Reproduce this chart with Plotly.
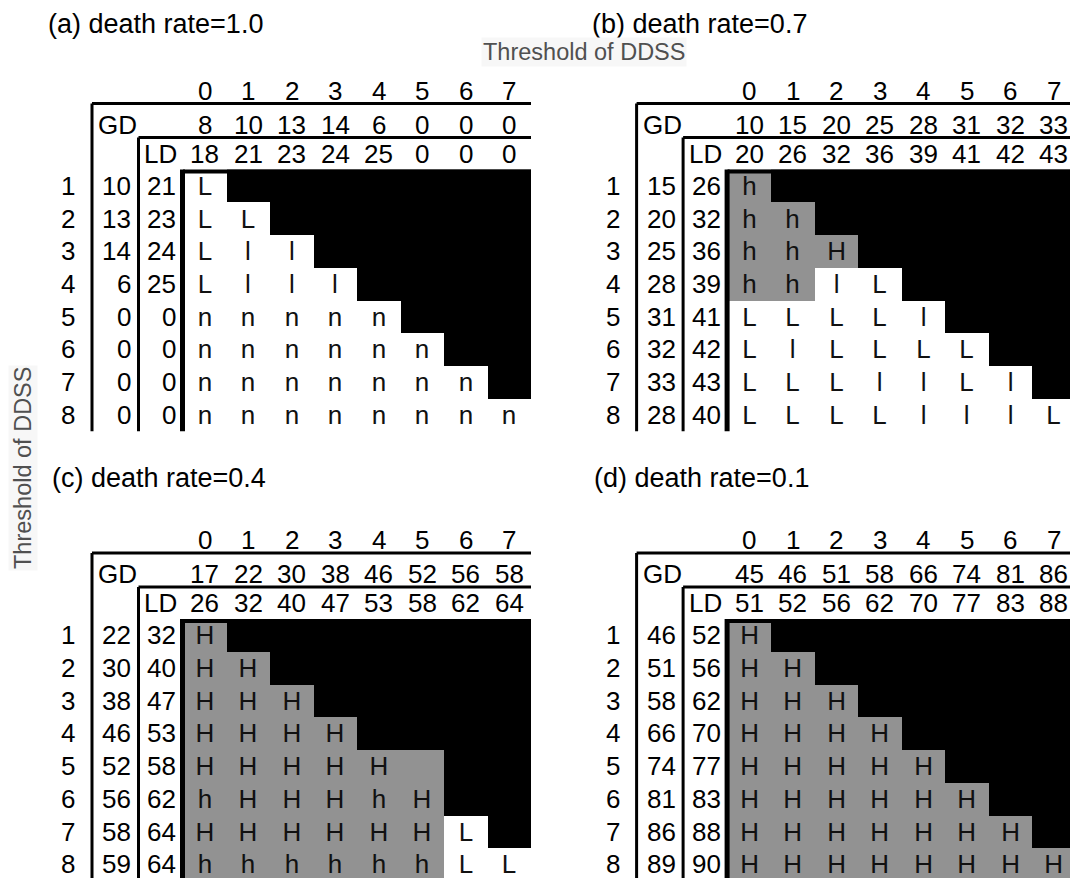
import plotly.graph_objects as go

# ---------------- data ----------------
col_labels = ["0", "1", "2", "3", "4", "5", "6", "7"]
row_labels = ["1", "2", "3", "4", "5", "6", "7", "8"]

title_a = "(a) death rate=1.0"
gd_head_a = [8, 10, 13, 14, 6, 0, 0, 0]
ld_head_a = [18, 21, 23, 24, 25, 0, 0, 0]
gd_row_a = [10, 13, 14, 6, 0, 0, 0, 0]
ld_row_a = [21, 23, 24, 25, 0, 0, 0, 0]
cells_a = ["L", "L L", "L l l", "L l l l", "n n n n n", "n n n n n n",
           "n n n n n n n", "n n n n n n n n"]

title_b = "(b) death rate=0.7"
gd_head_b = [10, 15, 20, 25, 28, 31, 32, 33]
ld_head_b = [20, 26, 32, 36, 39, 41, 42, 43]
gd_row_b = [15, 20, 25, 28, 31, 32, 33, 28]
ld_row_b = [26, 32, 36, 39, 41, 42, 43, 40]
cells_b = ["h", "h h", "h h H", "h h l L", "L L L L l", "L l L L L L",
           "L L L l l L l", "L L L L l l l L"]

title_c = "(c) death rate=0.4"
gd_head_c = [17, 22, 30, 38, 46, 52, 56, 58]
ld_head_c = [26, 32, 40, 47, 53, 58, 62, 64]
gd_row_c = [22, 30, 38, 46, 52, 56, 58, 59]
ld_row_c = [32, 40, 47, 53, 58, 62, 64, 64]
cells_c = ["H", "H H", "H H H", "H H H H", "H H H H H -", "h H H H h H",
           "H H H H H H L", "h h h h h h L L"]

title_d = "(d) death rate=0.1"
gd_head_d = [45, 46, 51, 58, 66, 74, 81, 86]
ld_head_d = [51, 52, 56, 62, 70, 77, 83, 88]
gd_row_d = [46, 51, 58, 66, 74, 81, 86, 89]
ld_row_d = [52, 56, 62, 70, 77, 83, 88, 90]
cells_d = ["H", "H H", "H H H", "H H H H", "H H H H H", "H H H H H H",
           "H H H H H H H", "H H H H H H H H"]

axis_title = "Threshold of DDSS"

panels = [
    (title_a, gd_head_a, ld_head_a, gd_row_a, ld_row_a, cells_a),
    (title_b, gd_head_b, ld_head_b, gd_row_b, ld_row_b, cells_b),
    (title_c, gd_head_c, ld_head_c, gd_row_c, ld_row_c, cells_c),
    (title_d, gd_head_d, ld_head_d, gd_row_d, ld_row_d, cells_d),
]

# ---------------- style / geometry ----------------
W, H = 1070, 878
CW, RH = 43.5, 32.7          # cell width / height in px
FONT = "Liberation Sans, Arial, sans-serif"
FS = 26
FS_TITLE = 27
GRAY = "#929292"
# (col0 left px, row1 top px, frame x0, frame x1, frame y0, frame y1)
geom = [
    (183.0, 169.6, 9.0, 531.0, 0.0, 434.0),
    (727.6, 169.6, 553.6, 1070.0, 0.0, 434.0),
    (183.0, 619.0, 9.0, 531.0, 440.0, 878.0),
    (727.6, 619.0, 553.6, 1070.0, 440.0, 878.0),
]
title_x_px = [46, 590, 50, 592]
title_y_px = [24, 24, 478, 478]

fig = go.Figure()
shapes, annotations = [], []

for i, (panel, g) in enumerate(zip(panels, geom)):
    title, gd_head, ld_head, gd_row, ld_row, cells = panel
    c0, r0, fx0, fx1, fy0, fy1 = g
    n = "" if i == 0 else str(i + 1)
    xr, yr = "x" + n, "y" + n

    def ux(px, c0=c0):
        return -0.5 + (px - c0) / CW

    def uy(py, r0=r0):
        return 0.5 + (py - r0) / RH

    xlo, xhi = ux(fx0), ux(fx1)
    ytop, ybot = uy(fy0), uy(fy1)

    # cells
    z, txt = [], []
    for r in range(8):
        toks = cells[r].split()
        zr, tr = [], []
        for c in range(8):
            if c < len(toks):
                t = toks[c]
                if t == "-":
                    zr.append(1); tr.append("")
                elif t in ("h", "H"):
                    zr.append(1); tr.append(t)
                else:
                    zr.append(0); tr.append(t)
            else:
                zr.append(2); tr.append("")
        z.append(zr); txt.append(tr)

    fig.add_trace(go.Heatmap(
        z=z, x=list(range(8)), y=list(range(1, 9)), text=txt,
        texttemplate="%{text}", textfont=dict(family=FONT, size=FS, color="#111111"),
        colorscale=[[0, "white"], [0.5, GRAY], [1, "black"]], zmin=0, zmax=2,
        showscale=False, hoverinfo="skip", xaxis=xr, yaxis=yr, xgap=0, ygap=0,
    ))

    ax = dict(visible=False, showgrid=False, zeroline=False, fixedrange=True)
    fig.update_layout(**{
        ("xaxis" + n): dict(ax, range=[xlo, xhi], domain=[fx0 / W, fx1 / W], anchor=yr),
        ("yaxis" + n): dict(ax, range=[ybot, ytop], domain=[1 - fy1 / H, 1 - fy0 / H], anchor=xr),
    })

    def txt_ann(x, y, s, xanchor="center", size=FS):
        annotations.append(dict(x=x, y=y, xref=xr, yref=yr, text=s, showarrow=False,
                                xanchor=xanchor, yanchor="middle",
                                font=dict(family=FONT, size=size, color="black")))

    # title
    txt_ann(ux(title_x_px[i]), uy(title_y_px[i]), title, "left", FS_TITLE)
    # column headers and header rows
    for c in range(8):
        txt_ann(c, uy(r0 - 79), col_labels[c])
        txt_ann(c, uy(r0 - 45), str(gd_head[c]))
        txt_ann(c, uy(r0 - 16), str(ld_head[c]))
    txt_ann(ux(c0 - 87), uy(r0 - 45), "GD", "left")
    txt_ann(ux(c0 - 41), uy(r0 - 16), "LD", "left")
    # row labels
    for r in range(8):
        txt_ann(ux(c0 - 115), r + 1, row_labels[r])
        txt_ann(ux(c0 - 50), r + 1, str(gd_row[r]), "right")
        txt_ann(ux(c0 - 5), r + 1, str(ld_row[r]), "right")

    right = min(7.5, xhi)
    bottom = min(8.5, ybot)

    def line(x0, y0, x1, y1, w):
        shapes.append(dict(type="line", xref=xr, yref=yr, x0=x0, y0=y0, x1=x1, y1=y1,
                           line=dict(color="black", width=w), layer="above"))

    gdx = ux(c0 - 91)
    ldx = ux(c0 - 44.5)
    line(gdx, uy(r0 - 66), right, uy(r0 - 66), 3)      # GD top
    line(gdx, uy(r0 - 66), gdx, bottom, 3)               # GD left
    line(ldx, uy(r0 - 32), right, uy(r0 - 32), 3)      # LD top
    line(ldx, uy(r0 - 32), ldx, bottom, 3)               # LD left
    line(-0.5, uy(r0 + 2), right, uy(r0 + 2), 4)         # cells top
    line(ux(c0 - 0.5), uy(r0), ux(c0 - 0.5), bottom, 5)  # thick left

annotations.append(dict(x=584 / W, y=1 - 52 / H, xref="paper", yref="paper", text=axis_title,
                        showarrow=False, xanchor="center", yanchor="middle", bgcolor="#f7f7f7",
                        font=dict(family=FONT, size=23.5, color="#505050")))
annotations.append(dict(x=23 / W, y=1 - 468 / H, xref="paper", yref="paper", text=axis_title,
                        showarrow=False, xanchor="center", yanchor="middle", textangle=-90,
                        bgcolor="#f7f7f7", font=dict(family=FONT, size=23.5, color="#505050")))

fig.update_layout(
    width=W, height=H, margin=dict(l=0, r=0, t=0, b=0),
    paper_bgcolor="white", plot_bgcolor="rgba(0,0,0,0)",
    showlegend=False, shapes=shapes, annotations=annotations,
)

fig.write_html("out.html", config={"displayModeBar": False})
